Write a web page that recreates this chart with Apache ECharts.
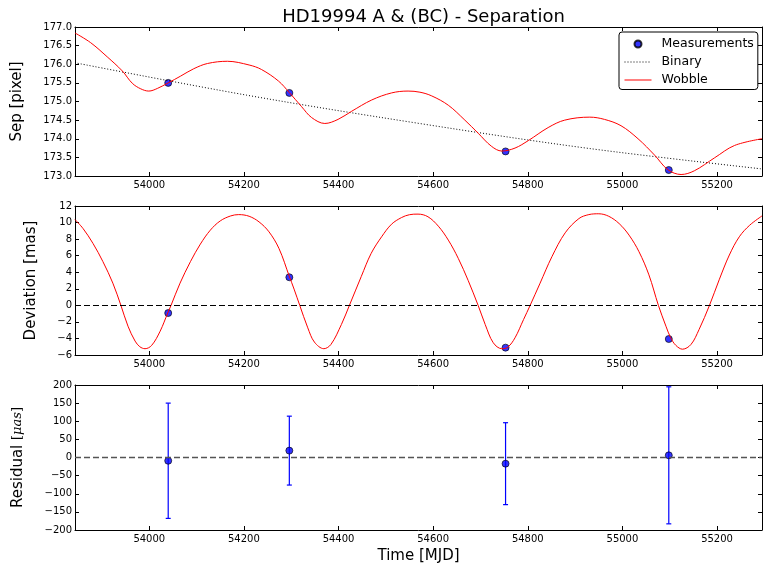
<!DOCTYPE html>
<html>
<head>
<meta charset="utf-8">
<style>
  html, body { margin: 0; padding: 0; background: #fff; }
  #chart { width: 763px; height: 565px; }
</style>
<script src="https://cdn.jsdelivr.net/npm/echarts@6/dist/echarts.min.js"></script>
</head>
<body>
<div id="chart"></div>
<script>
// Time axis ticks (MJD) and plotted time span
const mjdTicks = [54000, 54200, 54400, 54600, 54800, 55000, 55200];
const mjdMin = 53843;
const mjdMax = 55295;

// Epochs of the four measurements
const measMjd = [54040, 54296, 54753, 55098];
// Measured separation [pixel]
const measSep = [175.50, 175.23, 173.66, 173.16];
// Measured deviation from the binary motion [mas]
const measDev = [-0.93, 3.39, -5.11, -4.07];
// Residuals of the fit and their uncertainties [micro-arcsec]
const residual = [-9, 19, -17, 6];
const residualErr = [159, 95, 113, 189];

// Binary (A - BC) separation model [pixel]
const binaryMjd = [53843, 54206, 54566, 54929, 55295];
const binarySep = [176.04, 175.17, 174.42, 173.74, 173.19];

// Binary + wobble model separation [pixel]
const wobbleMjd = [53843, 53876, 53911, 53943, 53964, 53982, 53999, 54017, 54040, 54066,
  54094, 54123, 54165, 54211, 54237, 54273, 54296, 54322, 54343, 54371,
  54399, 54428, 54470, 54512, 54547, 54572, 54597, 54632, 54667, 54695,
  54723, 54745, 54773, 54801, 54843, 54878, 54931, 54962, 54997, 55033,
  55068, 55096, 55124, 55152, 55195, 55237, 55295];
const wobbleSep = [176.84, 176.58, 176.20, 175.82, 175.49, 175.34, 175.28, 175.35, 175.50, 175.68,
  175.88, 176.02, 176.08, 175.98, 175.86, 175.55, 175.24, 174.86, 174.57, 174.41,
  174.52, 174.74, 175.04, 175.23, 175.28, 175.25, 175.15, 174.90, 174.50, 174.15,
  173.80, 173.67, 173.75, 173.95, 174.30, 174.50, 174.58, 174.52, 174.35, 174.00,
  173.56, 173.17, 173.04, 173.14, 173.49, 173.82, 174.00];

// Wobble deviation [mas]
const devMjd = [53843, 53860, 53881, 53902, 53923, 53940, 53955, 53970, 53980, 53991,
  54005, 54023, 54039, 54046, 54065, 54087, 54108, 54129, 54150, 54172,
  54189, 54211, 54232, 54253, 54274, 54296, 54306, 54318, 54335, 54349,
  54369, 54384, 54406, 54423, 54448, 54469, 54491, 54512, 54533, 54550,
  54568, 54589, 54611, 54632, 54653, 54674, 54695, 54710, 54727, 54745,
  54758, 54773, 54791, 54805, 54826, 54851, 54879, 54908, 54929, 54950,
  54971, 54993, 55014, 55035, 55056, 55076, 55092, 55102, 55113, 55127,
  55145, 55162, 55184, 55205, 55226, 55247, 55269, 55295];
const devMas = [10.36, 9.28, 7.48, 5.28, 2.68, 0, -2.52, -4.32, -5.0, -5.24,
  -4.84, -3.12, -0.92, 0, 2.68, 5.28, 7.4, 9.08, 10.2, 10.8,
  10.96, 10.76, 10.08, 8.88, 6.88, 3.5, 1.96, 0, -2.72, -4.44,
  -5.24, -4.72, -2.32, 0, 3.48, 6.28, 8.28, 9.8, 10.6, 10.95,
  11.02, 10.7, 9.56, 7.88, 5.68, 3.0, 0, -2.32, -4.52, -5.24,
  -5.04, -3.92, -1.72, 0, 2.68, 5.88, 8.76, 10.48, 10.96, 11.06,
  10.76, 9.88, 8.48, 6.48, 3.68, 0, -2.52, -3.92, -4.84, -5.3,
  -4.72, -2.92, 0, 3.16, 6.08, 8.28, 9.68, 10.8];

const FONT = 'DejaVu Sans';
const SMOOTH = 0.35;
const zip = (xs, ys) => xs.map((x, i) => [x, ys[i]]);
const minus = v => String(v).replace('-', '\u2212');

const gridTops = [27, 206, 385];
const gridHeight = 149;

const tickStyle = { show: true, inside: true, length: 4, lineStyle: { color: '#000', width: 1 } };
const lineStyle = { show: true, onZero: false, lineStyle: { color: '#000', width: 1 } };

function xAxes(gi, name) {
  const base = {
    type: 'value', gridIndex: gi, min: mjdMin, max: mjdMax,
    splitLine: { show: false }, axisLine: lineStyle
  };
  return [
    Object.assign({}, base, {
      position: 'bottom',
      axisTick: Object.assign({ customValues: mjdTicks }, tickStyle),
      axisLabel: {
        customValues: mjdTicks, margin: 4, formatter: v => String(v),
        fontFamily: FONT, fontSize: 10, color: '#000'
      },
      name: name || '', nameLocation: 'middle', nameGap: 19,
      nameTextStyle: { fontFamily: FONT, fontSize: 15, color: '#000' }
    }),
    Object.assign({}, base, {
      position: 'top',
      axisTick: Object.assign({ customValues: mjdTicks }, tickStyle),
      axisLabel: { show: false, customValues: mjdTicks }
    })
  ];
}

function yAxes(gi, min, max, interval, fmt, name, gap, rich) {
  const base = {
    type: 'value', gridIndex: gi, min: min, max: max, interval: interval,
    splitLine: { show: false }, axisLine: lineStyle, axisTick: tickStyle
  };
  return [
    Object.assign({}, base, {
      position: 'left',
      axisLabel: { formatter: fmt, margin: 3, fontFamily: FONT, fontSize: 10, color: '#000' },
      name: name, nameLocation: 'middle', nameGap: gap,
      nameTextStyle: { fontFamily: FONT, fontSize: 15, color: '#000', rich: rich || {} }
    }),
    Object.assign({}, base, { position: 'right', axisLabel: { show: false } })
  ];
}

const markerStyle = { color: '#0000ff', borderColor: '#000', borderWidth: 0.8 };
const hiddenSymbol = { opacity: 0 };

const chart = echarts.init(document.getElementById('chart'), null, { renderer: 'canvas' });

chart.setOption({
  animation: false,
  backgroundColor: '#fff',
  title: {
    text: 'HD19994 A & (BC) - Separation',
    left: 418.5, textAlign: 'center', top: 3,
    textStyle: { fontFamily: FONT, fontSize: 18, fontWeight: 'normal', color: '#000' }
  },
  legend: {
    data: [
      { name: 'Measurements', icon: 'circle' },
      { name: 'Binary', itemStyle: hiddenSymbol },
      { name: 'Wobble', itemStyle: hiddenSymbol }
    ],
    orient: 'vertical', left: 619, top: 32,
    itemWidth: 27, itemHeight: 7, itemGap: 4,
    padding: [5, 4, 2.5, 5],
    borderColor: '#000', borderWidth: 1, borderRadius: 3, backgroundColor: '#fff',
    selectedMode: false,
    lineStyle: { width: 1 },
    textStyle: { fontFamily: FONT, fontSize: 12.5, color: '#000', lineHeight: 14, padding: [0, 0, 0, 5] }
  },
  grid: gridTops.map(t => ({ left: 75, right: 1, top: t, height: gridHeight })),
  xAxis: [].concat(xAxes(0), xAxes(1), xAxes(2, 'Time [MJD]')),
  yAxis: [].concat(
    yAxes(0, 173, 177, 0.5, v => v.toFixed(1), 'Sep [pixel]', 50.5),
    yAxes(1, -6, 12, 2, v => minus(v), 'Deviation [mas]', 36),
    yAxes(2, -200, 200, 50, v => minus(v), 'Residual {s|[}{m|\u03bcas}{s|]}', 49.5, {
      s: { fontFamily: 'DejaVu Serif', fontSize: 13, color: '#000' },
      m: { fontFamily: 'DejaVu Serif', fontStyle: 'italic', fontSize: 13, color: '#000' }
    })
  ),
  series: [
    {
      name: 'Measurements', type: 'scatter', xAxisIndex: 0, yAxisIndex: 0,
      symbol: 'circle', symbolSize: 7, itemStyle: markerStyle, z: 2,
      data: zip(measMjd, measSep)
    },
    {
      name: 'Binary', type: 'line', xAxisIndex: 0, yAxisIndex: 0, smooth: SMOOTH,
      showSymbol: false, symbol: 'none', z: 3,
      lineStyle: { color: '#000', width: 1, type: [1, 2] }, itemStyle: { color: '#000' },
      data: zip(binaryMjd, binarySep)
    },
    {
      name: 'Wobble', type: 'line', xAxisIndex: 0, yAxisIndex: 0, smooth: SMOOTH,
      showSymbol: false, symbol: 'none', z: 4,
      lineStyle: { color: '#ff0000', width: 1 }, itemStyle: { color: '#ff0000' },
      data: zip(wobbleMjd, wobbleSep)
    },
    {
      name: 'deviation-meas', type: 'scatter', xAxisIndex: 2, yAxisIndex: 2,
      symbol: 'circle', symbolSize: 7, itemStyle: markerStyle, z: 2,
      data: zip(measMjd, measDev),
      markLine: {
        silent: true, symbol: 'none', label: { show: false },
        lineStyle: { color: '#000', width: 1, type: [6, 3] },
        data: [{ yAxis: 0 }]
      }
    },
    {
      name: 'deviation-model', type: 'line', xAxisIndex: 2, yAxisIndex: 2, smooth: SMOOTH,
      showSymbol: false, symbol: 'none', z: 4,
      lineStyle: { color: '#ff0000', width: 1 },
      data: zip(devMjd, devMas)
    },
    {
      name: 'residual-err', type: 'custom', xAxisIndex: 4, yAxisIndex: 4, z: 2,
      data: residual.map((r, i) => [measMjd[i], r - residualErr[i], r + residualErr[i]]),
      renderItem: function (params, api) {
        const lo = api.coord([api.value(0), api.value(1)]);
        const hi = api.coord([api.value(0), api.value(2)]);
        const cap = 2.5;
        const st = { stroke: '#0000ff', lineWidth: 1.2 };
        return {
          type: 'group',
          children: [
            { type: 'line', shape: { x1: lo[0], y1: lo[1], x2: hi[0], y2: hi[1] }, style: st },
            { type: 'line', shape: { x1: lo[0] - cap, y1: lo[1], x2: lo[0] + cap, y2: lo[1] }, style: st },
            { type: 'line', shape: { x1: hi[0] - cap, y1: hi[1], x2: hi[0] + cap, y2: hi[1] }, style: st }
          ]
        };
      }
    },
    {
      name: 'residual', type: 'scatter', xAxisIndex: 4, yAxisIndex: 4,
      symbol: 'circle', symbolSize: 7, itemStyle: markerStyle, z: 3,
      data: zip(measMjd, residual),
      markLine: {
        silent: true, symbol: 'none', label: { show: false },
        lineStyle: { color: '#555', width: 1.3, type: [6, 3] },
        data: [{ yAxis: 0 }]
      }
    }
  ]
});
</script>
</body>
</html>
